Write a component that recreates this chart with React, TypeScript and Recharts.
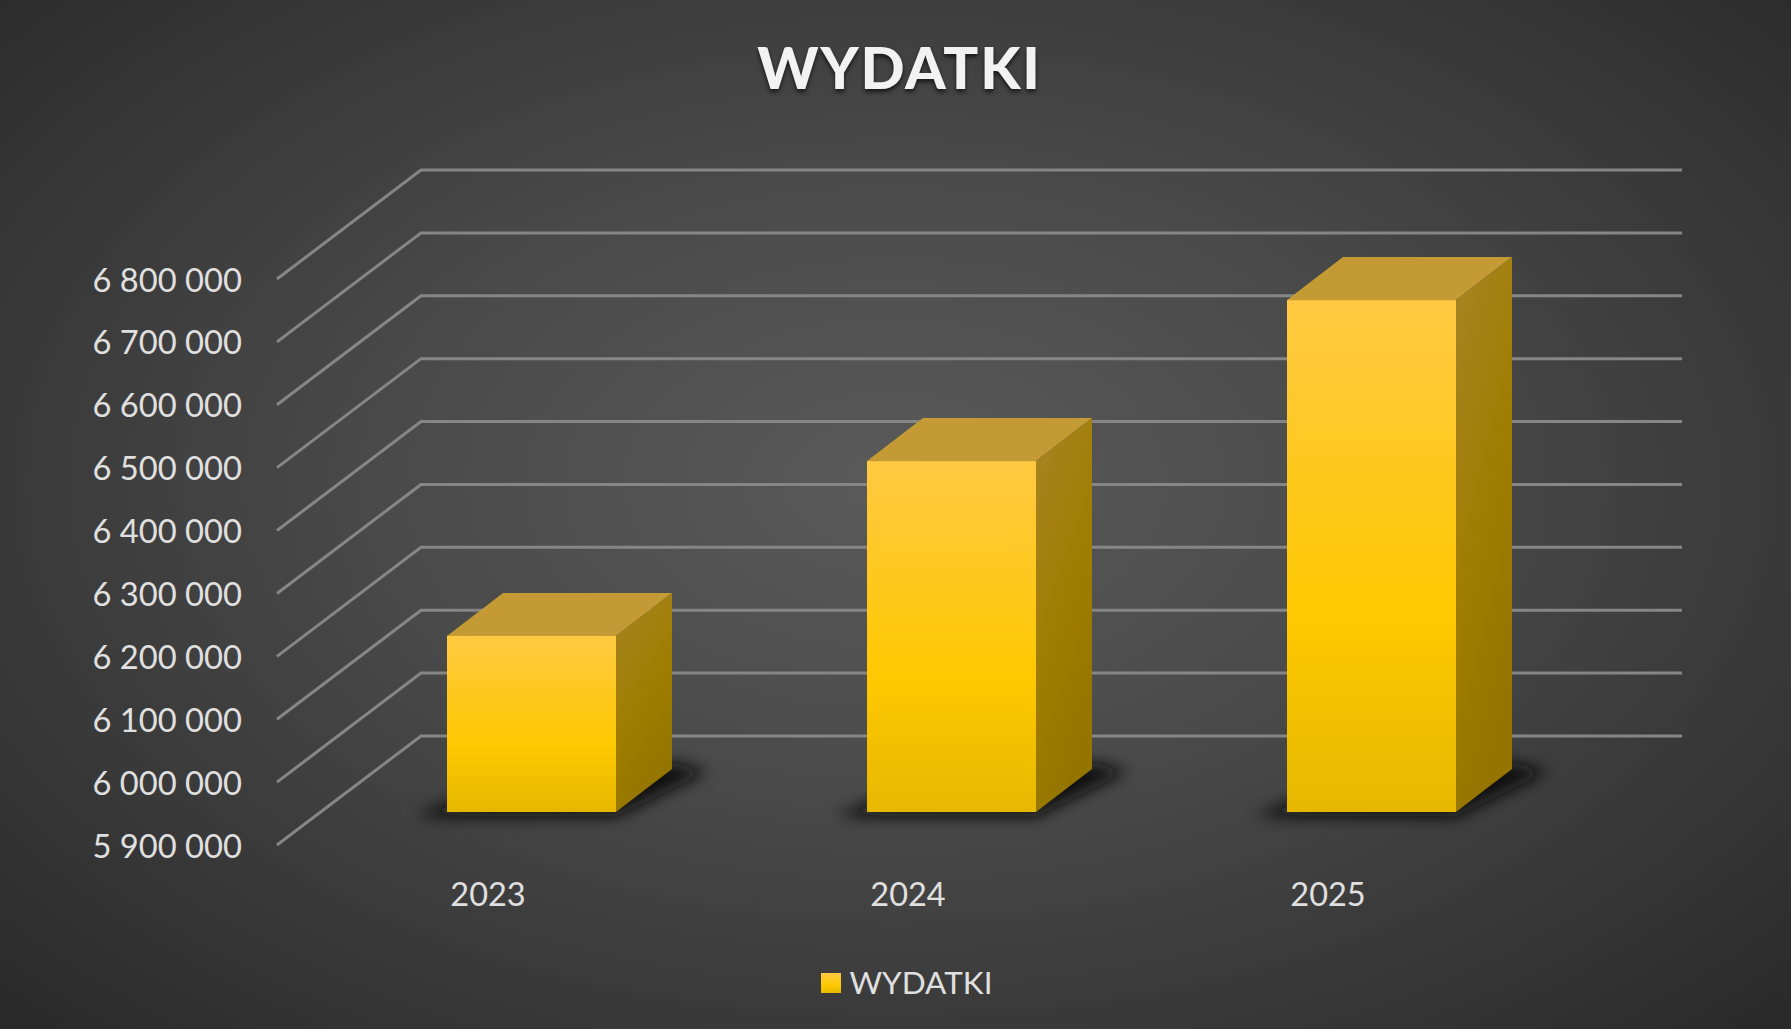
import { BarChart, Bar, XAxis, YAxis, Legend, CartesianGrid } from "recharts";

const years = ["2023", "2024", "2025"];
const wydatki = [6180000, 6458000, 6714000];
const yTicks = [5900000, 6000000, 6100000, 6200000, 6300000, 6400000, 6500000, 6600000, 6700000, 6800000];

const chartData = years.map((year, i) => ({ year, WYDATKI: wydatki[i] }));

const FONT = "Lato, sans-serif";
const TEXT = "#e0e0e0";
const LINE = "#868686";

// projection of the fake 3d: wall sits this far behind the axis, bars partway in, boxes have this depth
const WALL_DX = 144;
const WALL_DY = -109;
const WALL_W = 1261;
const BAR_DX = 44;
const BAR_DY = -33;
const DEPTH_DX = 56;
const DEPTH_DY = -43;

const fmt = (v: number) => String(v).replace(/\B(?=(\d{3})+$)/g, " ");

// grid line: slanted part from the axis to the back wall, then along the wall
function WallLine({ x1, y1 }: any) {
  return (
    <polyline
      points={`${x1},${y1} ${x1 + WALL_DX},${y1 + WALL_DY} ${x1 + WALL_DX + WALL_W},${y1 + WALL_DY}`}
      fill="none"
      stroke={LINE}
      strokeWidth={3}
    />
  );
}

function ValueTick({ x, y, payload }: any) {
  return (
    <text x={x - 35} y={y} textAnchor="end" dominantBaseline="central" fill={TEXT} fontSize={32.7} fontFamily={FONT}>
      {fmt(payload.value)}
    </text>
  );
}

function YearTick({ x, y, payload }: any) {
  return (
    <text x={x + 1} y={y + 48} textAnchor="middle" dominantBaseline="central" fill={TEXT} fontSize={32.5} fontFamily={FONT}>
      {payload.value}
    </text>
  );
}

function Box({ x, y, width, height }: any) {
  const l = x + BAR_DX;
  const r = l + width;
  const t = y + BAR_DY;
  const b = t + height;
  return (
    <g>
      <polygon
        points={`${l - 32},${b + 4} ${r},${b + 4} ${r + DEPTH_DX + 36},${b + DEPTH_DY + 2} ${r + DEPTH_DX},${b + DEPTH_DY - 6} ${l},${b - 8}`}
        fill="#0d0d0d"
        filter="url(#floorShadow)"
      />
      <polygon
        points={`${l},${t} ${l + DEPTH_DX},${t + DEPTH_DY} ${r + DEPTH_DX},${t + DEPTH_DY} ${r},${t}`}
        fill="#c49a35"
      />
      <polygon
        points={`${r},${t} ${r + DEPTH_DX},${t + DEPTH_DY} ${r + DEPTH_DX},${b + DEPTH_DY} ${r},${b}`}
        fill="url(#boxSide)"
      />
      <rect x={l} y={t} width={width} height={height} fill="url(#boxFront)" />
    </g>
  );
}

export default function App() {
  return (
    <div
      style={{
        position: "absolute",
        left: 0,
        top: 0,
        width: 1791,
        height: 1029,
        overflow: "hidden",
        background: "radial-gradient(ellipse farthest-corner at 50% 47%, #5a5a5a 0%, #4a4a4a 40%, #292929 100%)",
      }}
    >
      <div
        style={{
          position: "absolute",
          left: 4,
          width: 1791,
          top: 32,
          textAlign: "center",
          fontFamily: FONT,
          fontWeight: 900,
          fontSize: 58,
          lineHeight: "70px",
          letterSpacing: 1.8,
          color: "#f2f2f2",
          textShadow: "0 3px 4px rgba(0,0,0,0.65)",
        }}
      >
        WYDATKI
      </div>
      <BarChart
        width={1791}
        height={1029}
        data={chartData}
        barSize={169}
        margin={{ top: 279, right: 254, left: 276, bottom: 135 }}
      >
        <defs>
          <linearGradient id="boxFront" x1="0" y1="0" x2="0" y2="1">
            <stop offset="0%" stopColor="#ffc942" />
            <stop offset="62%" stopColor="#ffc800" />
            <stop offset="100%" stopColor="#e6b800" />
          </linearGradient>
          <linearGradient id="boxSide" x1="0" y1="0" x2="0.4" y2="1">
            <stop offset="0%" stopColor="#a88424" />
            <stop offset="60%" stopColor="#9f7d00" />
            <stop offset="100%" stopColor="#957500" />
          </linearGradient>
          <filter id="floorShadow" x="-30%" y="-100%" width="160%" height="300%">
            <feGaussianBlur stdDeviation="8" />
          </filter>
        </defs>
        <CartesianGrid vertical={false} horizontal={<WallLine />} />
        <YAxis
          width={1}
          domain={[5900000, 6800000]}
          ticks={yTicks}
          interval={0}
          axisLine={false}
          tickLine={false}
          tickSize={0}
          tickMargin={0}
          tick={<ValueTick />}
        />
        <XAxis
          dataKey="year"
          height={1}
          axisLine={false}
          tickLine={false}
          tickSize={0}
          tickMargin={0}
          tick={<YearTick />}
        />
        <Legend
          iconType="square"
          iconSize={20}
          formatter={(value) => (
            <span style={{ color: TEXT, fontSize: 31.5, fontFamily: FONT, marginLeft: 4, position: "relative", top: 7 }}>
              {value}
            </span>
          )}
          wrapperStyle={{ position: "absolute", top: 956, left: 0, width: 1824, height: 48, bottom: "auto" }}
        />
        <Bar dataKey="WYDATKI" fill="url(#boxFront)" shape={<Box />} isAnimationActive={false} />
      </BarChart>
    </div>
  );
}
